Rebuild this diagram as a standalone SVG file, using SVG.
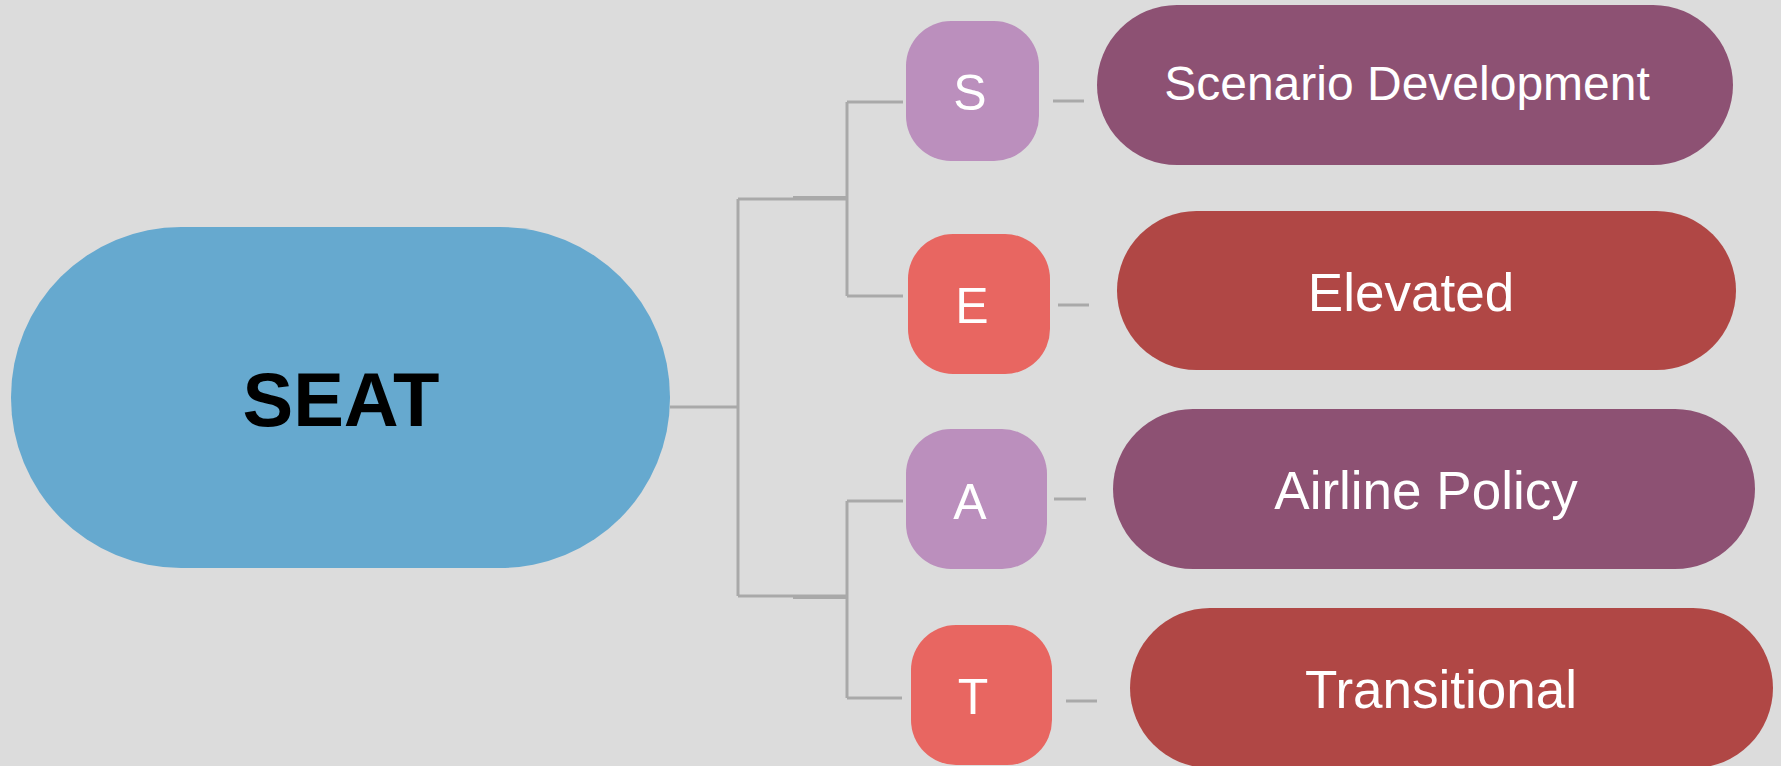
<svg xmlns="http://www.w3.org/2000/svg" width="1781" height="766" viewBox="0 0 1781 766">
<style>
.ln{fill:none;stroke:#a9a9a9;stroke-width:3}
.t{font-family:"Liberation Sans",Arial,sans-serif;fill:#ffffff;text-anchor:middle}
.lt{fill:#bb8fbd}
.rd{fill:#e86661}
.pp{fill:#8d5173}
.br{fill:#b04745}
</style>
<rect width="1781" height="766" fill="#dcdcdc"/>
<g id="connectors">
<path class="ln" d="M670 407H738M738 199V596M738 199H847M738 596H847M847 102V296M847 102H903M847 296H903M847 501V698M847 501H903M847 698H902"/>
<path class="ln" d="M793 197.5H847M793 597.5H847" stroke-width="4"/>
<path class="ln" d="M1053 101H1084M1058 305H1089M1054 499H1086M1066 701H1097"/>
</g>
<g id="seat">
<rect x="11" y="227" width="659" height="341" rx="170" fill="#66a9cf"/>
<text x="341" y="426" font-family="Liberation Sans,Arial,sans-serif" font-weight="bold" font-size="76" text-anchor="middle" fill="#000">SEAT</text>
</g>
<g id="node-s">
<rect class="lt" x="906" y="21" width="133" height="140" rx="45"/>
<text class="t" x="970" y="110" font-size="50">S</text>
</g>
<g id="node-e">
<rect class="rd" x="908" y="234" width="142" height="140" rx="45"/>
<text class="t" x="972" y="323" font-size="50">E</text>
</g>
<g id="node-a">
<rect class="lt" x="906" y="429" width="141" height="140" rx="45"/>
<text class="t" x="970" y="519" font-size="50">A</text>
</g>
<g id="node-t">
<rect class="rd" x="911" y="625" width="141" height="140" rx="45"/>
<text class="t" x="973" y="714" font-size="50">T</text>
</g>
<g id="scenario">
<rect class="pp" x="1097" y="5" width="636" height="160" rx="80"/>
<text class="t" x="1407" y="100" font-size="48">Scenario Development</text>
</g>
<g id="elevated">
<rect class="br" x="1117" y="211" width="619" height="159" rx="79.5"/>
<text class="t" x="1411" y="311" font-size="53">Elevated</text>
</g>
<g id="airline">
<rect class="pp" x="1113" y="409" width="642" height="160" rx="80"/>
<text class="t" x="1426" y="509" font-size="53">Airline Policy</text>
</g>
<g id="transitional">
<rect class="br" x="1130" y="608" width="643" height="160" rx="80"/>
<text class="t" x="1441" y="708" font-size="53">Transitional</text>
</g>
</svg>
